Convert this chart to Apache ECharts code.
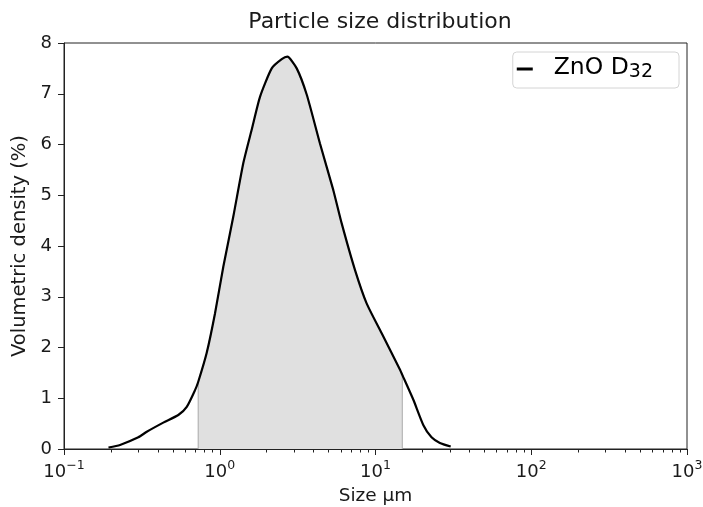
<!DOCTYPE html>
<html lang="en">
<head>
	<meta charset="utf-8">
	<title>Particle size distribution</title>
	<script src="https://cdn.jsdelivr.net/npm/echarts@6/dist/echarts.min.js"></script>
	<style>
		html, body { margin: 0; padding: 0; background: #fff; }
		#main { width: 703px; height: 507px; }
	</style>
</head>
<body>
<div id="main"></div>
<script>
	// particle size (um) and volumetric density (%)
	const sizes = [0.193, 0.229, 0.300, 0.340, 0.434, 0.542, 0.614, 0.694, 0.727, 0.824,
		0.932, 1.054, 1.222, 1.416, 1.603, 1.813, 2.156, 2.50, 2.716, 3.12,
		3.62, 4.40, 5.36, 6.06, 7.38, 8.77, 10.96, 14.37, 14.86, 17.5,
		20.3, 22.9, 25.9, 30.4];
	const density = [0.03, 0.08, 0.23, 0.34, 0.52, 0.67, 0.83, 1.16, 1.32, 1.89,
		2.67, 3.59, 4.58, 5.63, 6.29, 6.94, 7.50, 7.68, 7.73, 7.50,
		6.98, 6.02, 5.10, 4.45, 3.53, 2.87, 2.28, 1.56, 1.46, 0.97,
		0.47, 0.23, 0.12, 0.05];
	// shaded band limits (um)
	const shadeFrom = 0.727;
	const shadeTo = 14.86;

	const minorTicks = [];
	[0.1, 1, 10, 100].forEach(d => {
		for (let k = 2; k <= 9; k++) minorTicks.push(+(d * k).toPrecision(3));
	});

	const curve = sizes.map((s, i) => [s, density[i]]);
	const band = curve.filter(p => p[0] >= shadeFrom && p[0] <= shadeTo);
	band.unshift([shadeFrom, 0]);
	band.push([shadeTo, 0]);

	const font = 'DejaVu Sans';
	const ink = '#1a1a1a';

	const chart = echarts.init(document.getElementById('main'));
	const option = {
		animation: false,
		textStyle: { fontFamily: font },
		title: {
			text: 'Particle size distribution',
			left: 375, top: 6,
			textAlign: 'center',
			textStyle: { fontFamily: font, fontSize: 22, fontWeight: 'normal', color: ink }
		},
		grid: {
			left: 64, right: 16, top: 43, bottom: 58,
			outerBoundsMode: 'none',
			containLabel: false,
			show: true, borderColor: '#222', borderWidth: 1
		},
		legend: {
			data: ['ZnO D32'],
			right: 24, top: 52,
			icon: 'rect', itemWidth: 16, itemHeight: 3,
			borderColor: '#d4d4d4', borderWidth: 1, borderRadius: 4,
			padding: [4, 26, 3, 4],
			formatter: () => '{a|ZnO D}{s|32}',
			textStyle: {
				color: '#000',
				rich: {
					a: { fontFamily: font, fontSize: 23.5, lineHeight: 26, padding: [0, 0, 5, 16], verticalAlign: 'top' },
					s: { fontFamily: font, fontSize: 19, lineHeight: 19, verticalAlign: 'bottom' }
				}
			}
		},
		xAxis: [{
			type: 'log', logBase: 10, min: 0.1, max: 1000,
			position: 'bottom',
			name: 'Size \u00B5m', nameLocation: 'middle', nameGap: 38,
			nameTextStyle: { fontFamily: font, fontSize: 18.5, color: ink },
			axisLine: { lineStyle: { color: '#222', width: 1 } },
			axisTick: { length: 6, lineStyle: { color: '#222' } },
			axisLabel: {
				margin: 10,
				color: ink, fontFamily: font,
				formatter: v => {
					const e = Math.round(Math.log10(v));
					return '{b|10}{e|' + (e < 0 ? '\u2212' + (-e) : e) + '}';
				},
				rich: {
					b: { fontFamily: font, fontSize: 18, lineHeight: 22, verticalAlign: 'bottom', color: ink },
					e: { fontFamily: font, fontSize: 12.5, lineHeight: 15, verticalAlign: 'top', color: ink }
				}
			},
			splitLine: { show: false }
		}, {
			type: 'log', logBase: 10, min: 0.1, max: 1000,
			position: 'bottom',
			axisLine: { show: false },
			axisTick: { customValues: minorTicks, length: 3.5, lineStyle: { color: '#222' } },
			axisLabel: { show: false },
			splitLine: { show: false }
		}],
		yAxis: {
			type: 'value', min: 0, max: 8, interval: 1,
			name: 'Volumetric density (%)', nameLocation: 'middle', nameGap: 31,
			nameTextStyle: { fontFamily: font, fontSize: 19.5, color: ink },
			axisLine: { show: true, lineStyle: { color: '#222', width: 1 } },
			axisTick: { show: true, length: 6, lineStyle: { color: '#222' } },
			axisLabel: { fontSize: 18, color: ink, fontFamily: font, margin: 12 },
			splitLine: { show: false }
		},
		series: [{
			name: 'band',
			type: 'line',
			data: band,
			showSymbol: false,
			silent: true,
			lineStyle: { color: '#aaaaaa', width: 1 },
			areaStyle: { color: '#e0e0e0', opacity: 1 },
			z: 1
		}, {
			name: 'ZnO D32',
			type: 'line',
			data: curve,
			showSymbol: false,
			smooth: 0.2,
			color: '#000',
			lineStyle: { color: '#000', width: 2.2 },
			z: 3
		}]
	};
	chart.setOption(option);
</script>
</body>
</html>
